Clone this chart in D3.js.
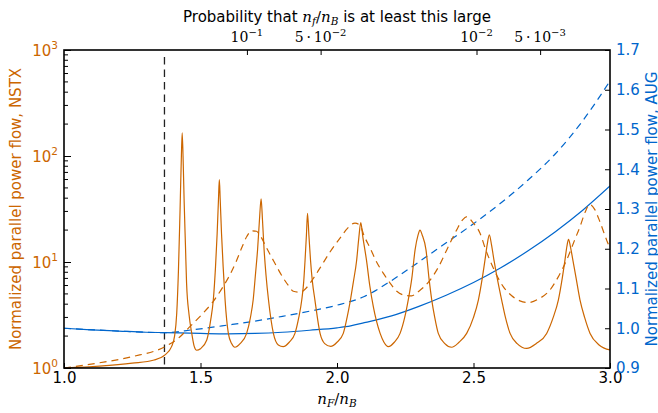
<!DOCTYPE html>
<html><head><meta charset="utf-8">
<script src="https://cdn.jsdelivr.net/npm/d3@7"></script>
<style>body{margin:0;background:#fff}svg{display:block}</style>
</head><body>
<svg id="c" width="658" height="413"></svg>
<script>
// ---------- data ----------
const xTicks = [1.0, 1.5, 2.0, 2.5, 3.0];
const leftTickExps = [0, 1, 2, 3];
const rightTicks = [0.9, 1.0, 1.1, 1.2, 1.3, 1.4, 1.5, 1.6, 1.7];
const topTickPos = [1.670, 1.940, 2.511, 2.744];
const topTickMant = ["", "5\u2009\u00b7\u2009", "", "5\u2009\u00b7\u2009"];
const topTickExp = ["\u22121", "\u22122", "\u22122", "\u22123"];
const thresholdX = 1.368;

// NSTX, solid (left log axis)
const nstxSolid = [[1.00,1.00],[1.13,1.04],[1.25,1.11],[1.33,1.19],[1.37,1.33],[1.394,1.59],[1.405,2.0],[1.413,3.3],[1.419,8.0],[1.425,30],[1.430,100],[1.433,165],[1.437,80],[1.440,38],[1.445,14],[1.449,6.3],[1.458,3.2],[1.468,2.12],[1.477,1.6],[1.486,1.47],[1.500,1.52],[1.523,1.84],[1.537,2.8],[1.547,4.4],[1.555,9],[1.561,18.6],[1.566,40],[1.569,60],[1.572,40],[1.577,18.6],[1.583,9],[1.590,4.4],[1.602,2.12],[1.614,1.7],[1.626,1.57],[1.645,1.7],[1.669,2.12],[1.683,3],[1.693,4.4],[1.702,8],[1.709,13],[1.716,25],[1.722,39.5],[1.727,25],[1.733,13],[1.740,7.5],[1.749,4.4],[1.767,2.12],[1.785,1.65],[1.803,1.59],[1.825,1.75],[1.846,2.12],[1.860,3],[1.871,4.4],[1.878,6.5],[1.883,10.4],[1.888,18],[1.892,28.8],[1.897,18],[1.903,10.4],[1.910,6.5],[1.919,4.4],[1.938,2.12],[1.955,1.7],[1.977,1.6],[2.000,1.75],[2.023,2.12],[2.037,3],[2.048,4.2],[2.060,6.5],[2.072,10.4],[2.080,17],[2.087,23.5],[2.095,17],[2.108,10.4],[2.120,6],[2.133,3.79],[2.158,2.12],[2.172,1.75],[2.188,1.59],[2.210,1.75],[2.231,2.12],[2.248,3],[2.261,4.4],[2.274,7],[2.286,13],[2.297,18],[2.304,20],[2.312,18],[2.326,13],[2.337,7],[2.347,4.4],[2.358,3],[2.371,2.12],[2.395,1.7],[2.420,1.57],[2.447,1.75],[2.475,2.12],[2.500,3],[2.518,4.4],[2.532,7],[2.542,10.4],[2.550,14.5],[2.558,18],[2.566,14.5],[2.575,10.4],[2.587,7],[2.603,4.4],[2.617,3],[2.634,2.12],[2.660,1.7],[2.695,1.53],[2.730,1.7],[2.768,2.12],[2.792,3],[2.811,4.4],[2.825,7],[2.835,10.4],[2.842,14],[2.848,16.4],[2.855,14],[2.864,10.4],[2.876,7],[2.890,4.4],[2.907,3],[2.927,2.12],[2.960,1.65],[3.000,1.48]];

// NSTX, dashed (left log axis)
const nstxDashed = [[1.00,1.00],[1.13,1.12],[1.25,1.28],[1.37,1.59],[1.425,1.97],[1.462,2.47],[1.505,3.2],[1.547,4.26],[1.580,5.7],[1.608,7.6],[1.630,10],[1.651,13.6],[1.670,17.5],[1.687,19.7],[1.705,19.5],[1.720,17.5],[1.742,13.6],[1.770,10],[1.803,7.06],[1.822,6],[1.840,5.3],[1.864,5.18],[1.885,5.6],[1.910,6.8],[1.938,8.8],[1.975,12.5],[2.011,16.8],[2.040,21],[2.066,23.3],[2.085,22],[2.100,17.5],[2.121,13.6],[2.145,10],[2.170,7.8],[2.195,6.3],[2.219,5.3],[2.250,4.85],[2.274,4.8],[2.300,5.3],[2.341,6.76],[2.370,8.8],[2.402,13],[2.438,20],[2.460,25],[2.477,26.8],[2.495,24],[2.524,18.7],[2.545,13],[2.560,10.4],[2.585,7.5],[2.609,5.85],[2.640,4.8],[2.670,4.3],[2.701,4.15],[2.740,4.5],[2.780,5.44],[2.810,7.2],[2.841,10.4],[2.870,16],[2.890,21.5],[2.910,30],[2.925,35],[2.945,31],[2.963,24],[2.988,16],[3.000,13.5]];

// AUG, solid (right linear axis)
const augSolid = [[1.00,1.000],[1.10,0.996],[1.20,0.993],[1.30,0.990],[1.37,0.989],[1.50,0.987],[1.60,0.986],[1.70,0.987],[1.80,0.990],[1.90,0.995],[2.00,1.001],[2.05,1.006],[2.10,1.014],[2.20,1.031],[2.30,1.055],[2.40,1.083],[2.50,1.115],[2.60,1.152],[2.70,1.195],[2.80,1.243],[2.90,1.297],[3.00,1.358]];

// AUG, dashed (right linear axis)
const augDashed = [[1.00,1.000],[1.20,0.993],[1.37,0.989],[1.47,0.996],[1.60,1.008],[1.70,1.018],[1.80,1.030],[1.90,1.043],[2.00,1.058],[2.10,1.080],[2.20,1.120],[2.30,1.167],[2.40,1.215],[2.50,1.263],[2.60,1.315],[2.70,1.373],[2.80,1.439],[2.90,1.522],[3.00,1.622]];

// ---------- drawing ----------
const ORANGE = "#cc6600", BLUE = "#0066cc";
const L = 64, R = 610, T = 50, B = 368;
const svg = d3.select("#c");
const x = d3.scaleLinear().domain([1, 3]).range([L, R]);
const yL = d3.scaleLog().domain([1, 1000]).range([B, T]);
const yR = d3.scaleLinear().domain([0.9, 1.7]).range([B, T]);
const sans = "DejaVu Sans, sans-serif", serif = "DejaVu Serif, serif";

svg.append("clipPath").attr("id", "clip").append("rect")
  .attr("x", L).attr("y", T).attr("width", R - L).attr("height", B - T);
const plot = svg.append("g").attr("clip-path", "url(#clip)");

const lineL = d3.line().x(d => x(d[0])).y(d => yL(d[1])).curve(d3.curveMonotoneX);
const lineR = d3.line().x(d => x(d[0])).y(d => yR(d[1])).curve(d3.curveMonotoneX);

plot.append("line").attr("x1", x(thresholdX)).attr("x2", x(thresholdX))
  .attr("y1", T + 7).attr("y2", B).attr("stroke", "#222").attr("stroke-width", 1.3)
  .attr("stroke-dasharray", "7.5,5");

plot.append("path").attr("d", lineR(augSolid)).attr("fill", "none")
  .attr("stroke", BLUE).attr("stroke-width", 1.2);
plot.append("path").attr("d", lineR(augDashed)).attr("fill", "none")
  .attr("stroke", BLUE).attr("stroke-width", 1.2).attr("stroke-dasharray", "7,5");
plot.append("path").attr("d", lineL(nstxDashed)).attr("fill", "none")
  .attr("stroke", ORANGE).attr("stroke-width", 1.2).attr("stroke-dasharray", "7,5");
plot.append("path").attr("d", lineL(nstxSolid)).attr("fill", "none")
  .attr("stroke", ORANGE).attr("stroke-width", 1.2);

// bottom axis
const gx = svg.append("g").attr("transform", `translate(0,${B})`)
  .call(d3.axisBottom(x).tickValues(xTicks).tickSize(-5).tickPadding(4).tickFormat(d3.format(".1f")));
gx.select(".domain").remove();
gx.selectAll("text").attr("font-family", sans).attr("font-size", 15).attr("fill", "#000");

// right axis
const gr = svg.append("g").attr("transform", `translate(${R},0)`)
  .call(d3.axisRight(yR).tickValues(rightTicks).tickSize(-5).tickPadding(6).tickFormat(d3.format(".1f")));
gr.select(".domain").remove();
gr.selectAll("text").attr("font-family", sans).attr("font-size", 15).attr("fill", BLUE);

// left axis (log) with minor ticks
const gl = svg.append("g").attr("transform", `translate(${L},0)`)
  .call(d3.axisLeft(yL).tickValues(leftTickExps.map(e => Math.pow(10, e))).tickSize(-7).tickFormat(""));
gl.select(".domain").remove();
const minors = [];
for (let e = 0; e < 3; e++) for (let m = 2; m <= 9; m++) minors.push(m * Math.pow(10, e));
gl.selectAll(".minor").data(minors).enter().append("line")
  .attr("x1", 0).attr("x2", 4).attr("y1", d => yL(d)).attr("y2", d => yL(d)).attr("stroke", "#000");
leftTickExps.forEach(e => {
  const t = svg.append("text").attr("x", 58).attr("y", yL(Math.pow(10, e)) + 5.5)
    .attr("text-anchor", "end").attr("font-family", sans).attr("font-size", 15).attr("fill", ORANGE);
  t.append("tspan").text("10");
  t.append("tspan").attr("dy", -7).attr("font-size", 10.5).text(e);
});

// top axis (probability)
const gt = svg.append("g").attr("transform", `translate(0,${T})`)
  .call(d3.axisTop(x).tickValues(topTickPos).tickSize(-5).tickFormat(""));
gt.select(".domain").remove();
topTickPos.forEach((p, i) => {
  const t = svg.append("text").attr("x", x(p)).attr("y", 42).attr("text-anchor", "middle")
    .attr("font-family", serif).attr("font-size", 14).attr("fill", "#000");
  t.append("tspan").text(topTickMant[i] + "10");
  t.append("tspan").attr("dy", -6).attr("font-size", 10).text(topTickExp[i]);
});

// frame
svg.append("rect").attr("x", L).attr("y", T).attr("width", R - L).attr("height", B - T)
  .attr("fill", "none").attr("stroke", "#000").attr("stroke-width", 1.6);

// title (top axis label)
const tt = svg.append("text").attr("x", (L + R) / 2).attr("y", 22).attr("text-anchor", "middle")
  .attr("font-family", sans).attr("font-size", 15).attr("fill", "#000");
tt.append("tspan").text("Probability that ");
tt.append("tspan").attr("font-family", serif).attr("font-style", "italic").text("n");
tt.append("tspan").attr("font-family", serif).attr("font-style", "italic").attr("font-size", 10.5).attr("dy", 3).text("f");
tt.append("tspan").attr("font-family", serif).attr("dy", -3).text("/");
tt.append("tspan").attr("font-family", serif).attr("font-style", "italic").text("n");
tt.append("tspan").attr("font-family", serif).attr("font-style", "italic").attr("font-size", 10.5).attr("dy", 3).text("B");
tt.append("tspan").attr("dy", -3).text(" is at least this large");

// x label
const xl = svg.append("text").attr("x", (L + R) / 2).attr("y", 404).attr("text-anchor", "middle")
  .attr("font-family", serif).attr("font-size", 15).attr("fill", "#000");
xl.append("tspan").attr("font-style", "italic").text("n");
xl.append("tspan").attr("font-style", "italic").attr("font-size", 10.5).attr("dy", 3).text("F");
xl.append("tspan").attr("dy", -3).text("/");
xl.append("tspan").attr("font-style", "italic").text("n");
xl.append("tspan").attr("font-style", "italic").attr("font-size", 10.5).attr("dy", 3).text("B");

// y labels
svg.append("text").attr("transform", `translate(16,${(T + B) / 2}) rotate(-90)`)
  .attr("text-anchor", "middle").attr("dominant-baseline", "central")
  .attr("font-family", sans).attr("font-size", 15).attr("fill", ORANGE)
  .text("Normalized parallel power flow, NSTX");
svg.append("text").attr("transform", `translate(652,${(T + B) / 2}) rotate(-90)`)
  .attr("text-anchor", "middle").attr("dominant-baseline", "central")
  .attr("font-family", sans).attr("font-size", 15).attr("fill", BLUE)
  .text("Normalized parallel power flow, AUG");
</script>
</body></html>
